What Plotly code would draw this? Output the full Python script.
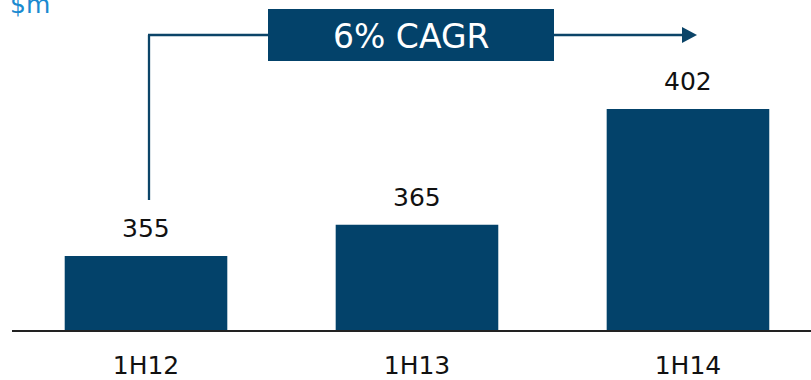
import plotly.graph_objects as go

# Half-year revenue, $m
periods = ["1H12", "1H13", "1H14"]
revenue = [355, 365, 402]
cagr_label = "6% CAGR"
unit_label = "$m"

BAR = "#03426a"
LINE = "#0b4468"
FONT = "DejaVu Sans"

W, H = 811, 380
L, R, T, B = 12, 0, 0, 50
pw, ph = W - L - R, H - T - B


def px(x):
    return (x - L) / pw


def py(y):
    return (H - B - y) / ph


fig = go.Figure(
    go.Bar(
        x=periods,
        y=revenue,
        marker=dict(color=BAR, line=dict(width=0)),
        width=0.6,
        hoverinfo="skip",
    )
)

# value labels above each bar
for p, v in zip(periods, revenue):
    fig.add_annotation(
        x=p, y=v, text=str(v), showarrow=False, yanchor="bottom", yshift=11,
        font=dict(family=FONT, size=25, color="#111111"),
    )

# CAGR connector: up from the first bar, across through the label box, arrow at the end
fig.add_shape(type="line", xref="paper", yref="paper",
              x0=px(149), y0=py(200), x1=px(149), y1=py(35),
              line=dict(color=LINE, width=2.3))
fig.add_shape(type="line", xref="paper", yref="paper",
              x0=px(148), y0=py(35), x1=px(685), y1=py(35),
              line=dict(color=LINE, width=2.3))
fig.add_shape(type="path", xref="paper", yref="paper",
              path=f"M {px(682)},{py(27)} L {px(697)},{py(35)} L {px(682)},{py(43)} Z",
              fillcolor=LINE, line=dict(width=0))
fig.add_shape(type="rect", xref="paper", yref="paper",
              x0=px(268), y0=py(9), x1=px(554), y1=py(61),
              fillcolor=BAR, line=dict(width=0))
fig.add_annotation(xref="paper", yref="paper", x=px(411), y=py(36),
                   text=cagr_label, showarrow=False, xanchor="center", yanchor="middle",
                   font=dict(family=FONT, size=33, color="white"))

# unit label in the top-left corner
fig.add_annotation(xref="paper", yref="paper", x=px(8), y=py(5),
                   text=unit_label, showarrow=False, xanchor="left", yanchor="middle",
                   font=dict(family=FONT, size=25, color="#1a8ad0"))

fig.update_layout(
    width=W, height=H,
    margin=dict(l=L, r=R, t=T, b=B),
    paper_bgcolor="white", plot_bgcolor="white",
    showlegend=False,
    xaxis=dict(
        range=[-0.4945, 2.454],
        showline=True, linecolor="#222222", linewidth=2,
        showgrid=False, zeroline=False, ticks="",
        automargin=False,
        ticklabelstandoff=12,
        tickfont=dict(family=FONT, size=25, color="#111111"),
    ),
    yaxis=dict(range=[331.4, 436.8], visible=False, showgrid=False,
               zeroline=False, automargin=False),
)

fig.write_html("out.html")
